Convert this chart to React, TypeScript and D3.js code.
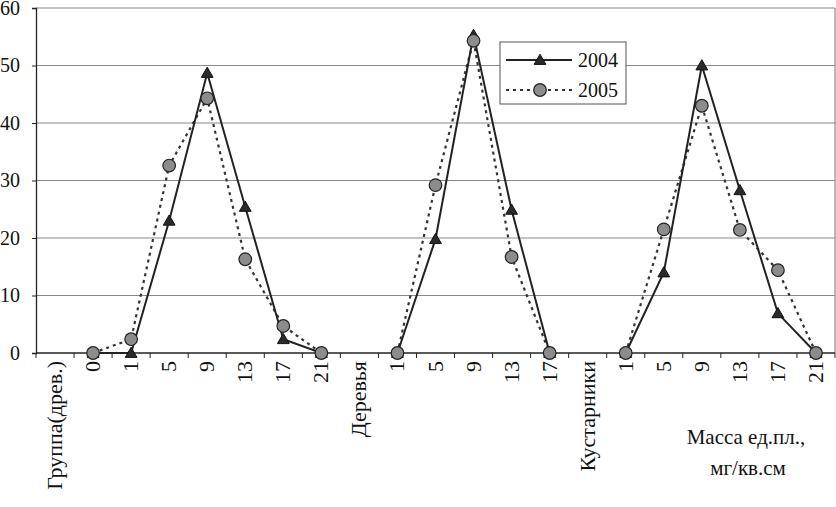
import { useEffect, useRef } from 'react'
import * as d3 from 'd3'

const CATEGORIES = [
  'Группа(древ.)', '0', '1', '5', '9', '13', '17', '21',
  'Деревья', '1', '5', '9', '13', '17',
  'Кустарники', '1', '5', '9', '13', '17', '21',
]

const S2004: (number | null)[] = [
  null, 0, 0, 23, 48.7, 25.4, 2.4, 0,
  null, 0, 19.8, 55.3, 24.9, 0,
  null, 0, 14.0, 50.0, 28.3, 6.9, 0,
]

const S2005: (number | null)[] = [
  null, 0, 2.4, 32.6, 44.3, 16.3, 4.7, 0,
  null, 0, 29.2, 54.3, 16.7, 0,
  null, 0, 21.5, 43.0, 21.4, 14.4, 0,
]

const Y_TICKS = [0, 10, 20, 30, 40, 50, 60]
const FONT = "'Liberation Serif', 'DejaVu Serif', serif"

export default function App() {
  const svgRef = useRef<SVGSVGElement>(null)

  useEffect(() => {
    if (!svgRef.current) return
    const W = 836, H = 507
    const margin = { top: 8, right: 1, bottom: 154, left: 36 }
    const w = W - margin.left - margin.right
    const h = H - margin.top - margin.bottom

    const svg = d3.select(svgRef.current)
    svg.selectAll('*').remove()
    svg.attr('width', W).attr('height', H).style('font-family', FONT)

    const g = svg.append('g').attr('transform', `translate(${margin.left},${margin.top})`)

    const idx = CATEGORIES.map((_, i) => i)
    const x = d3.scaleBand<number>().domain(idx).range([0, w])
    const y = d3.scaleLinear().domain([0, 60]).range([h, 0])
    const cx = (i: number) => (x(i) as number) + x.bandwidth() / 2

    // gridlines
    g.selectAll('.grid')
      .data(Y_TICKS.filter(t => t > 0))
      .enter().append('line')
      .attr('x1', 0).attr('x2', w)
      .attr('y1', d => y(d)).attr('y2', d => y(d))
      .attr('stroke', '#8a8a8a').attr('stroke-width', 1.2)

    // right border
    g.append('line')
      .attr('x1', w).attr('x2', w).attr('y1', 0).attr('y2', h)
      .attr('stroke', '#8a8a8a').attr('stroke-width', 1.2)

    // y axis
    g.append('g')
      .call(d3.axisLeft(y).tickValues(Y_TICKS).tickSize(4).tickPadding(12).tickFormat(d3.format('d')))
      .call(ax => ax.attr('font-family', null))
      .call(ax => ax.select('.domain').attr('stroke', '#222').attr('stroke-width', 1.3))
      .call(ax => ax.selectAll('line').attr('stroke', '#222'))
      .call(ax => ax.selectAll('text')
        .attr('fill', '#111').attr('font-size', '20px').style('font-family', FONT))

    // x axis, ticks between categories
    const xAxis = g.append('g').attr('transform', `translate(0,${h})`)
    xAxis.append('line')
      .attr('x1', 0).attr('x2', w).attr('stroke', '#222').attr('stroke-width', 1.3)
    xAxis.selectAll('.tk')
      .data(d3.range(CATEGORIES.length + 1))
      .enter().append('line')
      .attr('x1', d => d * x.step()).attr('x2', d => d * x.step())
      .attr('y1', 0).attr('y2', 5)
      .attr('stroke', '#222')
    xAxis.selectAll('.lbl')
      .data(CATEGORIES)
      .enter().append('text')
      .attr('transform', (_, i) => `translate(${cx(i) + 7},8) rotate(-90)`)
      .attr('text-anchor', 'end')
      .attr('fill', '#111').attr('font-size', '22px').style('font-family', FONT)
      .text(d => d)

    const line = d3.line<number | null>()
      .defined(d => d !== null)
      .x((_, i) => cx(i))
      .y(d => y(d as number))

    g.append('path').datum(S2005)
      .attr('d', line).attr('fill', 'none')
      .attr('stroke', '#333').attr('stroke-width', 2.2).attr('stroke-dasharray', '3,4')

    g.append('path').datum(S2004)
      .attr('d', line).attr('fill', 'none')
      .attr('stroke', '#222').attr('stroke-width', 2)

    const tri = d3.symbol().type(d3.symbolTriangle).size(60)

    g.selectAll('.t04')
      .data(S2004.map((v, i) => ({ v, i })).filter(d => d.v !== null))
      .enter().append('path')
      .attr('d', tri)
      .attr('transform', d => `translate(${cx(d.i)},${y(d.v as number) + 1})`)
      .attr('fill', '#2a2a2a').attr('stroke', '#111').attr('stroke-width', 1)

    g.selectAll('.c05')
      .data(S2005.map((v, i) => ({ v, i })).filter(d => d.v !== null))
      .enter().append('circle')
      .attr('cx', d => cx(d.i)).attr('cy', d => y(d.v as number)).attr('r', 6.3)
      .attr('fill', '#8c8c8c').attr('stroke', '#222').attr('stroke-width', 1.2)

    // legend
    const lg = svg.append('g').attr('transform', 'translate(500,42)')
    lg.append('rect').attr('width', 126).attr('height', 62)
      .attr('fill', '#fff').attr('stroke', '#555').attr('stroke-width', 1)
    lg.append('line').attr('x1', 6).attr('x2', 72).attr('y1', 18).attr('y2', 18)
      .attr('stroke', '#222').attr('stroke-width', 2)
    lg.append('path').attr('d', tri).attr('transform', 'translate(40,19)')
      .attr('fill', '#2a2a2a').attr('stroke', '#111')
    lg.append('line').attr('x1', 6).attr('x2', 72).attr('y1', 48).attr('y2', 48)
      .attr('stroke', '#333').attr('stroke-width', 2.2).attr('stroke-dasharray', '3,4')
    lg.append('circle').attr('cx', 40).attr('cy', 48).attr('r', 6.3)
      .attr('fill', '#8c8c8c').attr('stroke', '#222').attr('stroke-width', 1.2)
    ;['2004', '2005'].forEach((t, i) => {
      lg.append('text').attr('x', 78).attr('y', 18 + i * 30).attr('dy', '0.35em')
        .attr('fill', '#111').attr('font-size', '20px').style('font-family', FONT).text(t)
    })

    // axis title
    const tt = svg.append('g').attr('fill', '#111').attr('font-size', '21px')
      .style('font-family', FONT).attr('text-anchor', 'middle')
    tt.append('text').attr('x', 746).attr('y', 444).text('Масса ед.пл.,')
    tt.append('text').attr('x', 748).attr('y', 475).text('мг/кв.см')
  }, [])

  return (
    <svg ref={svgRef} style={{ position: 'absolute', left: 0, top: 0, display: 'block', background: '#fff' }} />
  )
}
